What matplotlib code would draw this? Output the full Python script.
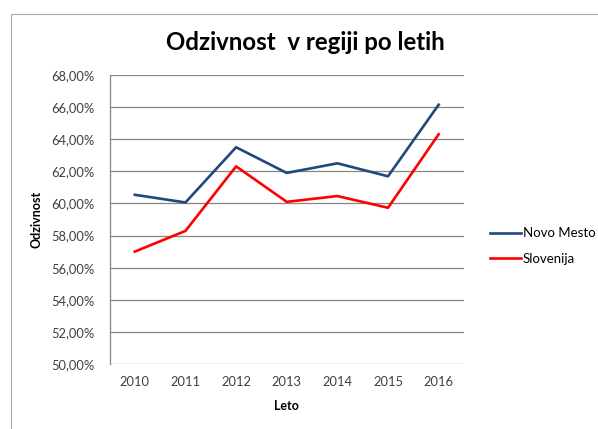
import numpy as np
import matplotlib.pyplot as plt
from matplotlib.patches import Rectangle

leta = ['2010', '2011', '2012', '2013', '2014', '2015', '2016']
novo_mesto = [60.54, 60.06, 63.50, 61.90, 62.50, 61.69, 66.15]
slovenija = [57.00, 58.29, 62.31, 60.10, 60.46, 59.73, 64.31]
y_ticks = np.arange(50, 68.1, 2)

plt.rcParams['font.family'] = ['Lato', 'DejaVu Sans']

fig = plt.figure(figsize=(5.98, 4.29), dpi=100)
# okvir grafa
fig.patches.append(Rectangle((11 / 598, -0.1), 1.0, 1 - 14 / 429 + 0.1,
                             transform=fig.transFigure, fill=False,
                             edgecolor='#a6a6a6', linewidth=0.8))

ax = fig.add_axes([109.5 / 598, 1 - 364 / 429, 354.5 / 598, 289 / 429])
x = np.arange(len(leta))
ax.plot(x, novo_mesto, color='#1f497d', linewidth=1.9, label='Novo Mesto')
ax.plot(x, slovenija, color='#ff0000', linewidth=1.9, label='Slovenija')

ax.set_xlim(-0.5, len(leta) - 0.5)
ax.set_ylim(50, 68)
ax.set_yticks(y_ticks)
ax.set_yticklabels([f'{v:.2f}%'.replace('.', ',') for v in y_ticks])
ax.set_xticks(x)
ax.set_xticklabels(leta)
ax.tick_params(length=0, labelsize=9.3, colors='#404040', pad=9)
ax.tick_params(axis='y', pad=11)
ax.grid(axis='y', color='#868686', linewidth=0.9)
ax.set_axisbelow(True)
for s in ['top', 'right', 'bottom']:
    ax.spines[s].set_visible(False)
ax.spines['left'].set_color('#868686')
ax.spines['left'].set_linewidth(0.9)

ax.set_xlabel('Leto', fontsize=9, fontweight='bold', labelpad=8)
ax.set_ylabel('Odzivnost', fontsize=9, fontweight='bold', labelpad=6)
fig.text(305.5 / 598, 1 - 43 / 429, 'Odzivnost  v regiji po letih', fontsize=17.3,
         fontweight='bold', ha='center', va='center')

fig.legend(loc='center left', bbox_to_anchor=(478 / 598, 1 - 246 / 429),
           frameon=False, fontsize=9.5, handlelength=2.35, handletextpad=0.15,
           labelspacing=1.0)

fig.savefig('out.png', dpi=100)
